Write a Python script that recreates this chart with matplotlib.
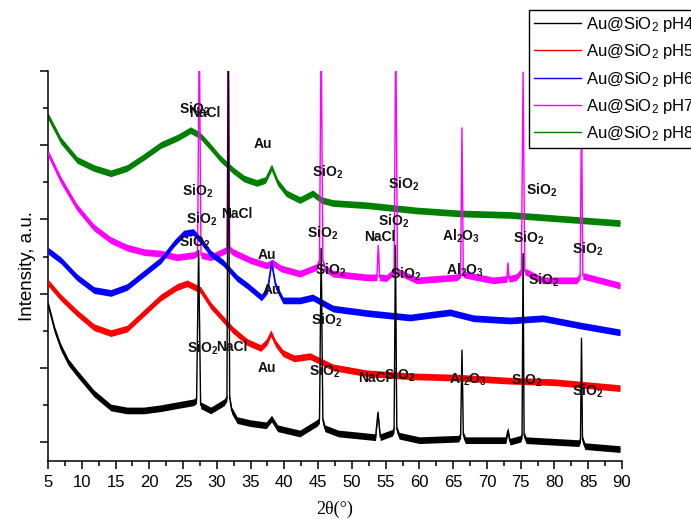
import matplotlib
matplotlib.use("Agg")
import matplotlib.pyplot as plt
import numpy as np
from matplotlib.ticker import MultipleLocator

plt.rcParams['font.family'] = ['Liberation Sans', 'DejaVu Sans']
plt.rcParams['mathtext.default'] = 'regular'

# ---------------- data ----------------
series_names = ["Au@SiO$_2$ pH4", "Au@SiO$_2$ pH5", "Au@SiO$_2$ pH6",
                "Au@SiO$_2$ pH7", "Au@SiO$_2$ pH8"]
series_colors = ["#000000", "#ff0000", "#0000ff", "#ff00ff", "#008000"]

ph4_x = [5, 6.0, 6.9, 8, 9.3, 11.8, 14.3, 16.7, 19.2, 21.7, 24.1, 26.6, 27.0, 27.3, 27.6,
         29.1, 31.1, 31.5, 31.7, 31.9, 32.2, 33, 34.9, 37.3, 38.1, 39, 42.3, 44.8, 45.2,
         45.45, 45.7, 46.0, 48, 53.5, 53.85, 54.2, 56.0, 56.25, 56.45, 56.65, 57, 60,
         65.8, 66.1, 66.3, 66.5, 66.8, 72.8, 73.1, 73.4, 75.0, 75.2, 75.35, 75.5, 75.8,
         83.6, 83.85, 84.0, 84.15, 84.5, 89.7]
ph4_y = [1.86, 1.51, 1.28, 1.08, 0.93, 0.66, 0.47, 0.43, 0.43, 0.46, 0.50, 0.54, 0.57, 2.58, 0.50,
         0.43, 0.54, 0.60, 5.6, 0.60, 0.43, 0.30, 0.26, 0.23, 0.32, 0.19, 0.12, 0.26, 0.30,
         2.61, 0.30, 0.19, 0.12, 0.07, 0.40, 0.07, 0.13, 0.18, 2.65, 0.18, 0.09, 0.03,
         0.05, 0.10, 1.24, 0.10, 0.03, 0.03, 0.16, 0.01, 0.05, 0.10, 2.54, 0.10, 0.03,
         -0.01, 0.04, 1.40, 0.04, -0.05, -0.09]

ph5_x = [5, 6.9, 9.3, 11.8, 14.3, 16.7, 19.2, 21.7, 24.1, 25.6, 27.6, 29.1, 30.5, 32.4,
         34.5, 36.5, 37.4, 38.0, 38.7, 39.8, 41.5, 43.8, 47.2, 52.2, 58.6, 66, 73.4, 80, 89.7]
ph5_y = [2.15, 1.95, 1.74, 1.55, 1.47, 1.53, 1.74, 1.95, 2.09, 2.14, 2.05, 1.84, 1.70, 1.51,
         1.35, 1.27, 1.35, 1.47, 1.33, 1.20, 1.13, 1.16, 1.01, 0.93, 0.89, 0.87, 0.83, 0.81, 0.73]

ph6_x = [5, 6.9, 9.3, 11.8, 14.3, 16.7, 19.2, 21.7, 23.7, 25.1, 26.5, 27.6, 29.1, 30.9,
         33.0, 34.5, 36.6, 37.5, 38.1, 38.7, 39.8, 42.3, 44.2, 47.2, 52.2, 58.6, 64.5, 68,
         73.4, 78.3, 84, 89.7]
ph6_y = [2.58, 2.45, 2.22, 2.05, 2.01, 2.09, 2.27, 2.45, 2.68, 2.81, 2.83, 2.72, 2.54, 2.42,
         2.21, 2.11, 1.95, 2.05, 2.42, 2.11, 1.91, 1.91, 1.95, 1.80, 1.74, 1.68, 1.75, 1.67,
         1.64, 1.67, 1.57, 1.48]

ph7_x = [5, 6.9, 9.3, 11.8, 14.3, 16.7, 19.2, 21.7, 24.1, 26.6, 27.15, 27.4, 27.65, 29.1,
         31.2, 31.5, 31.7, 31.9, 32.4, 35, 37.4, 38.2, 39.5, 42.3, 44.8, 45.2, 45.45, 45.7,
         46.0, 47.2, 52.2, 53.7, 53.9, 54.1, 55.1, 56.25, 56.5, 56.75, 59.6, 65.5, 66.1,
         66.3, 66.5, 70.9, 72.95, 73.1, 73.25, 74.3, 75.1, 75.35, 75.6, 78.3, 83.3, 83.8,
         84.0, 84.2, 89.7]
ph7_y = [3.89, 3.53, 3.16, 2.89, 2.72, 2.62, 2.56, 2.54, 2.49, 2.52, 2.55, 5.6, 2.52, 2.49,
         2.58, 2.60, 5.6, 2.60, 2.56, 2.45, 2.38, 2.42, 2.34, 2.27, 2.36, 2.45, 5.6, 2.45,
         2.34, 2.27, 2.22, 2.22, 2.65, 2.22, 2.21, 2.30, 5.6, 2.30, 2.18, 2.22, 2.26,
         4.23, 2.26, 2.18, 2.20, 2.41, 2.20, 2.22, 2.30, 4.98, 2.30, 2.18, 2.18, 2.24,
         4.50, 2.24, 2.11]

ph8_x = [5, 6.9, 9.3, 11.8, 14.3, 16.7, 19.2, 21.7, 24.2, 26.1, 27.5, 29.1, 30.5, 32.4,
         34, 35.9, 37.2, 38.1, 39.0, 40.3, 42.3, 44.2, 45.5, 47.2, 52.2, 59.6, 66, 73.4,
         80.8, 89.7]
ph8_y = [4.39, 4.06, 3.80, 3.69, 3.62, 3.69, 3.84, 4.00, 4.10, 4.20, 4.13, 3.97, 3.82, 3.66,
         3.55, 3.49, 3.53, 3.70, 3.50, 3.35, 3.26, 3.35, 3.26, 3.22, 3.19, 3.12, 3.08, 3.06,
         3.01, 2.95]

# peak annotations
label_text = ["SiO$_2$", "NaCl", "Au", "SiO$_2$", "SiO$_2$", "SiO$_2$",
              "SiO$_2$", "NaCl", "SiO$_2$", "SiO$_2$", "SiO$_2$", "NaCl", "Al$_2$O$_3$", "SiO$_2$", "SiO$_2$",
              "SiO$_2$", "Au", "SiO$_2$", "SiO$_2$", "Al$_2$O$_3$", "SiO$_2$", "Au", "SiO$_2$",
              "SiO$_2$", "NaCl", "Au", "SiO$_2$", "NaCl", "SiO$_2$", "Al$_2$O$_3$", "SiO$_2$", "SiO$_2$"]
label_x = [26.77, 28.25, 36.84, 46.46, 57.72, 78.15,
           27.21, 32.99, 27.80, 45.72, 56.24, 54.16, 66.16, 76.23, 84.96,
           26.77, 37.43, 46.91, 58.01, 66.75, 78.45, 38.17, 46.31,
           27.95, 32.25, 37.43, 46.02, 53.27, 57.12, 67.19, 75.93, 84.96]
label_y = [4.48, 4.43, 4.02, 3.63, 3.47, 3.39,
           3.38, 3.07, 3.00, 2.81, 2.97, 2.76, 2.77, 2.75, 2.60,
           2.69, 2.52, 2.31, 2.26, 2.31, 2.18, 2.05, 1.64,
           1.27, 1.29, 1.00, 0.96, 0.86, 0.90, 0.85, 0.83, 0.69]

x_ticks = [5, 10, 15, 20, 25, 30, 35, 40, 45, 50, 55, 60, 65, 70, 75, 80, 85, 90]

# ---------------- figure ----------------
fig = plt.figure(figsize=(6.91, 5.19), dpi=100)
ax = fig.add_axes([48 / 691, 1 - 461 / 519, (622 - 48) / 691, (461 - 70.7) / 519])

all_x = [ph4_x, ph5_x, ph6_x, ph7_x, ph8_x]
all_y = [ph4_y, ph5_y, ph6_y, ph7_y, ph8_y]
band = 0.045
for i in [4, 3, 2, 1, 0]:
    xs = np.array(all_x[i]); ys = np.array(all_y[i])
    z = 2 + (4 - i)
    ax.fill_between(xs, ys - band, ys + band, color=series_colors[i], lw=0, zorder=z)
    ax.plot(xs, ys, color=series_colors[i], lw=1.0, zorder=z)

for t, x, y in zip(label_text, label_x, label_y):
    ax.text(x, y, t, ha='center', va='center', fontsize=10, fontweight='bold',
            color='#111111', zorder=10)

ax.set_xlim(5, 90)
ax.set_ylim(-0.25, 5.0)
ax.set_xticks(x_ticks)
ax.xaxis.set_minor_locator(MultipleLocator(2.5))
ax.yaxis.set_major_locator(MultipleLocator(1))
ax.yaxis.set_minor_locator(MultipleLocator(0.5))
ax.set_yticklabels([])
ax.tick_params(axis='both', which='major', direction='out', length=6, width=1.1)
ax.tick_params(axis='both', which='minor', direction='out', length=3.5, width=1.1)
ax.tick_params(axis='x', labelsize=12, pad=4)
for s in ['top', 'right']:
    ax.spines[s].set_visible(False)
for s in ['left', 'bottom']:
    ax.spines[s].set_linewidth(1.1)

ax.set_ylabel("Intensity, a.u.", fontsize=13.5, labelpad=-1)
ax.set_xlabel("2\u03b8(\u00b0)", fontsize=13, family=['Liberation Serif'], labelpad=8)

leg_handles = [plt.Line2D([], [], color=c, lw=1.0) for c in series_colors]
fig.legend(leg_handles, series_names, loc='upper left',
           bbox_to_anchor=(529 / 691, 1 - 10 / 519), borderaxespad=0, fontsize=12,
           frameon=True, fancybox=False, edgecolor='black', framealpha=1,
           handlelength=2.8, handletextpad=0.3, labelspacing=0.5, borderpad=0.3)

fig.savefig("out.png", dpi=100)
